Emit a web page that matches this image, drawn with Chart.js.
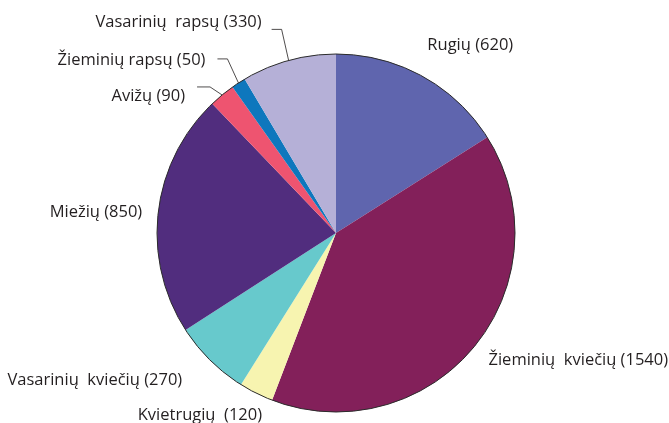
<!DOCTYPE html>
<html>
<head>
<meta charset="utf-8">
<script src="https://cdn.jsdelivr.net/npm/chart.js@4"></script>
<style>
    html, body { margin: 0; padding: 0; background: #fff; }
    #wrap { width: 669px; height: 423px; }
</style>
</head>
<body>
<div id="wrap"><canvas id="cropChart" width="669" height="423"></canvas></div>
<script>
// data, clockwise from 12 o'clock
const categories = ['Rugių', 'Žieminių  kviečių', 'Kvietrugių ', 'Vasarinių  kviečių', 'Miežių', 'Avižų', 'Žieminių rapsų', 'Vasarinių  rapsų']
const areas = [620, 1540, 120, 270, 850, 90, 50, 330]
const sliceColors = ['#5f65ae', '#83205a', '#f7f4b0', '#67c9cc', '#512d7e', '#ee5470', '#0e77bd', '#b5b0d7']

// label placement relative to the slice edge point (mid angle)
// [dx, dy, align, leader elbow dx, dy, leader end dx]
const labelPlacement = [
    [5, -31, 'left'],
    [14, 14, 'left'],
    [6, 22, 'right'],
    [-28, 20, 'right'],
    [-16, 0, 'right'],
    [-37, 1, 'right', -12, -8, -25],
    [-33, -23, 'right', -11, -24, -21],
    [-27, -38, 'right', -7, -31, -17]
]

const labelPlugin = {
    id: 'labels',
    afterDatasetsDraw(chart) {
        const ctx = chart.ctx
        const arcs = chart.getDatasetMeta(0).data
        const first = arcs[0]

        // thin outline round the pie
        ctx.save()
        ctx.beginPath()
        ctx.arc(first.x, first.y, first.outerRadius, 0, Math.PI * 2)
        ctx.strokeStyle = '#2b2b2b'
        ctx.lineWidth = 1
        ctx.stroke()

        ctx.font = '16.5px "Open Sans"'
        ctx.fillStyle = '#231f20'
        ctx.textBaseline = 'middle'

        arcs.forEach((arc, i) => {
            const mid = (arc.startAngle + arc.endAngle) / 2
            const ex = arc.x + Math.cos(mid) * arc.outerRadius
            const ey = arc.y + Math.sin(mid) * arc.outerRadius
            const p = labelPlacement[i]

            if (p.length > 3) {
                ctx.beginPath()
                ctx.moveTo(ex, ey)
                ctx.lineTo(ex + p[3], ey + p[4])
                ctx.lineTo(ex + p[5], ey + p[4])
                ctx.strokeStyle = '#231f20'
                ctx.lineWidth = 0.8
                ctx.stroke()
            }

            ctx.textAlign = p[2]
            ctx.fillText(categories[i] + ' (' + areas[i] + ')', ex + p[0], ey + p[1])
        })
        ctx.restore()
    }
}

new Chart(document.getElementById('cropChart'), {
    type: 'pie',
    data: {
        labels: categories,
        datasets: [
            {
                data: areas,
                backgroundColor: sliceColors,
                borderWidth: 0
            }
        ]
    },
    options: {
        responsive: false,
        animation: false,
        layout: {
            padding: { top: 54, bottom: 11, left: 157, right: 154 }
        },
        plugins: {
            legend: { display: false },
            tooltip: { enabled: false }
        }
    },
    plugins: [labelPlugin]
})
</script>
</body>
</html>
